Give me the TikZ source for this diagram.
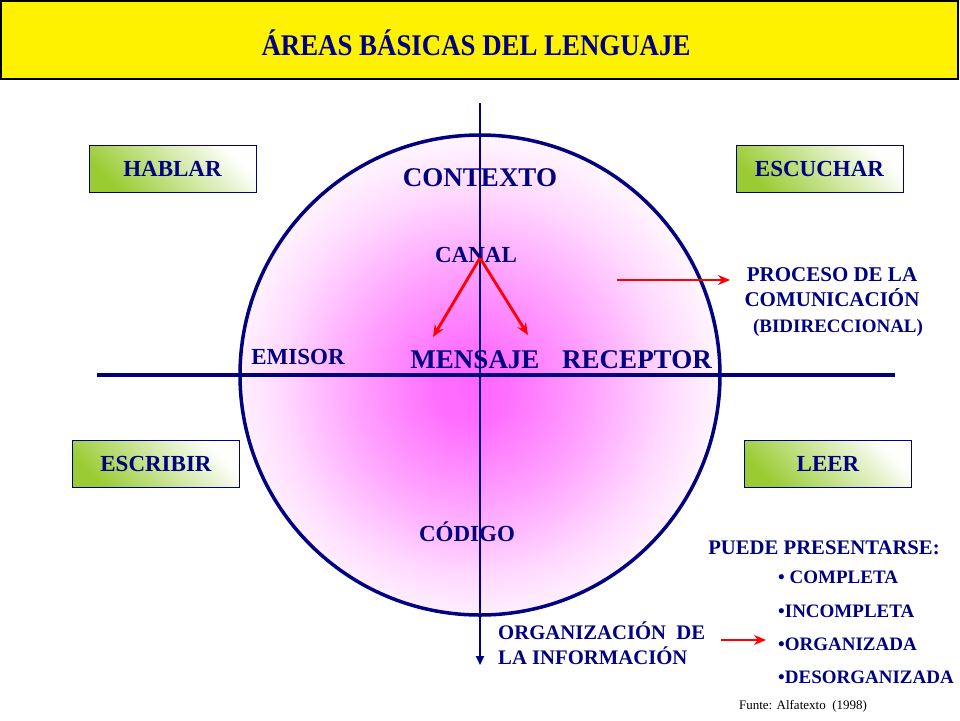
\documentclass[tikz,border=0pt]{standalone}
\usepackage{fontspec}
\setmainfont{Liberation Serif}
\usepackage{graphicx}
\usetikzlibrary{arrows.meta}
\definecolor{azul}{RGB}{0,0,128}
\definecolor{verde}{RGB}{153,204,51}
\definecolor{rosa}{RGB}{255,102,255}
\pgfdeclareradialshading{rosado}{\pgfpoint{-1bp}{-1.5bp}}{color(0bp)=(rosa); color(4bp)=(rosa!94!white); color(12bp)=(rosa!62!white); color(20bp)=(rosa!25!white); color(25bp)=(rosa!8!white); color(50bp)=(white)}
\tikzset{
  area/.style={draw=azul, thin, top color=verde, bottom color=white, shading angle=135,
    minimum width=167pt, minimum height=47pt, text=azul, font=\bfseries\fontsize{23}{26}\selectfont},
  etiqueta/.style={text=azul, inner sep=0pt, font=\bfseries\fontsize{23}{26}\selectfont},
  grande/.style={text=azul, inner sep=0pt, font=\bfseries\fontsize{27}{30}\selectfont},
  nota/.style={text=azul, inner sep=0pt, font=\bfseries\fontsize{20.7}{25}\selectfont},
  flecha/.style={red, line width=2.8pt, -{Stealth[length=12pt,width=10pt]}},
}
\begin{document}
\begin{tikzpicture}[x=1pt,y=-1pt]
        \useasboundingbox (0,0) rectangle (960,720);

        % banner
        \draw[black, line width=1.2pt, fill=yellow] (1,1) rectangle (958,79);
        \node[text=azul, inner sep=0pt, anchor=base, font=\bfseries\fontsize{30}{32}\selectfont] (titulo) at (476,55) {\scalebox{0.895}[1]{ÁREAS BÁSICAS DEL LENGUAJE}};

        % circle and axes
        \coordinate (centro) at (480,375);
        \shade[shading=rosado] (centro) circle [radius=240pt];
        \draw[azul, line width=3.5pt] (centro) circle [radius=240pt];
        \coordinate (izq) at (97,375);
        \coordinate (der) at (895,375);
        \coordinate (arriba) at (480,103);
        \coordinate (abajo) at (480,665);
        \draw[azul, line width=4pt] (izq) -- (der);
        \draw[azul, line width=2pt, -{Triangle[length=9pt,width=8pt]}] (arriba) -- (abajo);

        % the four areas
        \node[area] (hablar) at (172.5,168.5) {HABLAR};
        \node[area] (escuchar) at (819.5,168.5) {ESCUCHAR};
        \node[area] (escribir) at (156,464) {ESCRIBIR};
        \node[area] (leer) at (828,464) {LEER};

        % elements of communication
        \node[grande, anchor=base] (contexto) at (480,186) {CONTEXTO};
        \node[etiqueta, anchor=base] (canal) at (476,262) {CANAL};
        \node[etiqueta, anchor=base] (emisor) at (298,364) {EMISOR};
        \node[grande, anchor=base] (mensaje) at (475,368) {MENSAJE};
        \node[grande, anchor=base] (receptor) at (637,368) {RECEPTOR};
        \node[etiqueta, anchor=base] (codigo) at (467,541) {CÓDIGO};

        \coordinate (canalpunta) at (480,258);
        \coordinate (haciaizq) at (433,337);
        \coordinate (haciader) at (528,335);
        \draw[flecha] (canalpunta) -- (haciaizq);
        \draw[flecha] (canalpunta) -- (haciader);

        % right hand notes
        \node[nota, align=center, font=\bfseries\fontsize{21}{25}\selectfont] (proceso) at (832,287) {PROCESO DE LA\\COMUNICACIÓN};
        \node[nota, font=\bfseries\fontsize{19}{22}\selectfont] (bidir) at (838,328) {(BIDIRECCIONAL)};
        \coordinate (pinicio) at (617,280);
        \coordinate (pfin) at (730,280);
        \draw[flecha] (pinicio) -- (pfin);

        \node[nota] (puede) at (824,548) {PUEDE PRESENTARSE:};
        \node[nota, anchor=west, align=left, font=\bfseries\fontsize{19}{33.3}\selectfont] (lista) at (778,627.5) {• COMPLETA\\•INCOMPLETA\\•ORGANIZADA\\•DESORGANIZADA};
        \node[nota, anchor=west, align=left] (organiza) at (498,643.5) {ORGANIZACIÓN~~DE\\LA INFORMACIÓN};
        \coordinate (oinicio) at (721,640);
        \coordinate (ofin) at (766,640);
        \draw[flecha] (oinicio) -- (ofin);

        \node[inner sep=0pt, font=\fontsize{13}{15}\selectfont] (fuente) at (803,706) {Funte: Alfatexto~~(1998)};
    \end{tikzpicture}
\end{document}
